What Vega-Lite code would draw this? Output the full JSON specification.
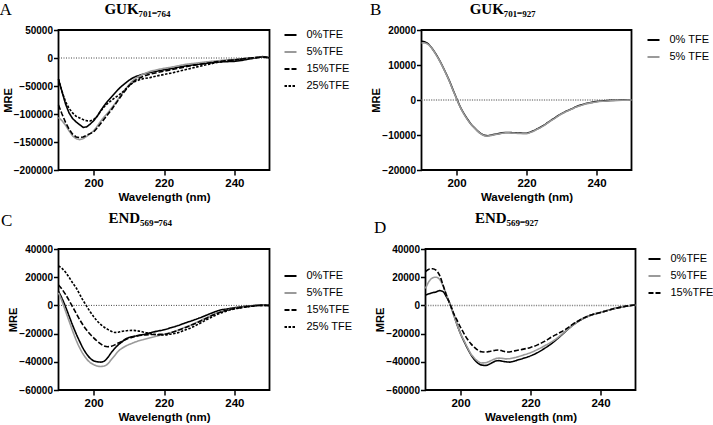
{
  "$schema": "https://vega.github.io/schema/vega-lite/v6.json",
  "background": "white",
  "padding": {"left": -1.5, "top": 0, "right": 0, "bottom": 0},
  "config": {
    "font": "Liberation Sans",
    "view": {"stroke": "black", "strokeWidth": 1.8},
    "axis": {"domain": false, "grid": false, "labelOverlap": false, "tickColor": "black", "tickSize": 5, "tickWidth": 1.5, "labelFont": "Liberation Sans", "labelFontWeight": "bold", "labelColor": "black", "titleFont": "Liberation Sans", "titleFontWeight": "bold", "titleColor": "black", "titleFontSize": 11.5},
    "axisX": {"labelFontSize": 11.5, "labelPadding": 2, "titlePadding": 3},
    "axisY": {"labelFontSize": 10, "labelPadding": 1, "titlePadding": 0, "titleFontSize": 11},
    "legend": {"orient": "none", "symbolType": "stroke", "symbolSize": 144, "symbolStrokeWidth": 2, "labelFont": "Liberation Sans", "labelFontSize": 11, "labelColor": "black", "padding": 0, "rowPadding": 5, "labelOffset": 9},
    "title": {"font": "Liberation Serif", "color": "black"}
  },
  "datasets": {
    "A": [
      {"w":190,"m":-38000,"s":"0%TFE"},{"w":191,"m":-60000,"s":"0%TFE"},{"w":192,"m":-82000,"s":"0%TFE"},{"w":193,"m":-98000,"s":"0%TFE"},{"w":194,"m":-108000,"s":"0%TFE"},{"w":195,"m":-114000,"s":"0%TFE"},{"w":196,"m":-119000,"s":"0%TFE"},{"w":197,"m":-124000,"s":"0%TFE"},{"w":198,"m":-123000,"s":"0%TFE"},{"w":199,"m":-118000,"s":"0%TFE"},{"w":200,"m":-112000,"s":"0%TFE"},{"w":201,"m":-104000,"s":"0%TFE"},{"w":202,"m":-94000,"s":"0%TFE"},{"w":203,"m":-85000,"s":"0%TFE"},{"w":204,"m":-77000,"s":"0%TFE"},{"w":205,"m":-70000,"s":"0%TFE"},{"w":206,"m":-63000,"s":"0%TFE"},{"w":207,"m":-56000,"s":"0%TFE"},{"w":208,"m":-50000,"s":"0%TFE"},{"w":209,"m":-45000,"s":"0%TFE"},{"w":210,"m":-40000,"s":"0%TFE"},{"w":211,"m":-36000,"s":"0%TFE"},{"w":212,"m":-33000,"s":"0%TFE"},{"w":214,"m":-29000,"s":"0%TFE"},{"w":216,"m":-26000,"s":"0%TFE"},{"w":218,"m":-23500,"s":"0%TFE"},{"w":220,"m":-21000,"s":"0%TFE"},{"w":222,"m":-19000,"s":"0%TFE"},{"w":224,"m":-16500,"s":"0%TFE"},{"w":226,"m":-14300,"s":"0%TFE"},{"w":228,"m":-12500,"s":"0%TFE"},{"w":230,"m":-11000,"s":"0%TFE"},{"w":232,"m":-9500,"s":"0%TFE"},{"w":234,"m":-8000,"s":"0%TFE"},{"w":236,"m":-7000,"s":"0%TFE"},{"w":238,"m":-6500,"s":"0%TFE"},{"w":240,"m":-6000,"s":"0%TFE"},{"w":242,"m":-4500,"s":"0%TFE"},{"w":244,"m":-2000,"s":"0%TFE"},{"w":246,"m":0,"s":"0%TFE"},{"w":248,"m":2400,"s":"0%TFE"},{"w":249,"m":2000,"s":"0%TFE"},{"w":250,"m":0,"s":"0%TFE"},
      {"w":190,"m":-106000,"s":"5%TFE"},{"w":191,"m":-112000,"s":"5%TFE"},{"w":192,"m":-120000,"s":"5%TFE"},{"w":193,"m":-130000,"s":"5%TFE"},{"w":194,"m":-139000,"s":"5%TFE"},{"w":195,"m":-144000,"s":"5%TFE"},{"w":196,"m":-146000,"s":"5%TFE"},{"w":197,"m":-144000,"s":"5%TFE"},{"w":198,"m":-140000,"s":"5%TFE"},{"w":199,"m":-135000,"s":"5%TFE"},{"w":200,"m":-130000,"s":"5%TFE"},{"w":201,"m":-122000,"s":"5%TFE"},{"w":202,"m":-113000,"s":"5%TFE"},{"w":203,"m":-105000,"s":"5%TFE"},{"w":204,"m":-98000,"s":"5%TFE"},{"w":205,"m":-90000,"s":"5%TFE"},{"w":206,"m":-82000,"s":"5%TFE"},{"w":207,"m":-73000,"s":"5%TFE"},{"w":208,"m":-64000,"s":"5%TFE"},{"w":209,"m":-56000,"s":"5%TFE"},{"w":210,"m":-48000,"s":"5%TFE"},{"w":211,"m":-41000,"s":"5%TFE"},{"w":212,"m":-36000,"s":"5%TFE"},{"w":214,"m":-29000,"s":"5%TFE"},{"w":216,"m":-24000,"s":"5%TFE"},{"w":218,"m":-21000,"s":"5%TFE"},{"w":220,"m":-18500,"s":"5%TFE"},{"w":222,"m":-16500,"s":"5%TFE"},{"w":224,"m":-14000,"s":"5%TFE"},{"w":226,"m":-11500,"s":"5%TFE"},{"w":228,"m":-10000,"s":"5%TFE"},{"w":230,"m":-8500,"s":"5%TFE"},{"w":232,"m":-7000,"s":"5%TFE"},{"w":234,"m":-5800,"s":"5%TFE"},{"w":236,"m":-4500,"s":"5%TFE"},{"w":238,"m":-3200,"s":"5%TFE"},{"w":240,"m":-2500,"s":"5%TFE"},{"w":242,"m":-1500,"s":"5%TFE"},{"w":244,"m":0,"s":"5%TFE"},{"w":246,"m":800,"s":"5%TFE"},{"w":248,"m":1800,"s":"5%TFE"},{"w":250,"m":200,"s":"5%TFE"},
      {"w":190,"m":-84000,"s":"15%TFE"},{"w":191,"m":-100000,"s":"15%TFE"},{"w":192,"m":-115000,"s":"15%TFE"},{"w":193,"m":-127000,"s":"15%TFE"},{"w":194,"m":-136000,"s":"15%TFE"},{"w":195,"m":-141000,"s":"15%TFE"},{"w":196,"m":-142000,"s":"15%TFE"},{"w":197,"m":-141000,"s":"15%TFE"},{"w":198,"m":-138000,"s":"15%TFE"},{"w":199,"m":-135000,"s":"15%TFE"},{"w":200,"m":-132000,"s":"15%TFE"},{"w":201,"m":-125000,"s":"15%TFE"},{"w":202,"m":-117000,"s":"15%TFE"},{"w":203,"m":-109000,"s":"15%TFE"},{"w":204,"m":-101000,"s":"15%TFE"},{"w":205,"m":-93000,"s":"15%TFE"},{"w":206,"m":-84000,"s":"15%TFE"},{"w":207,"m":-75000,"s":"15%TFE"},{"w":208,"m":-66000,"s":"15%TFE"},{"w":209,"m":-58000,"s":"15%TFE"},{"w":210,"m":-50000,"s":"15%TFE"},{"w":211,"m":-44000,"s":"15%TFE"},{"w":212,"m":-39000,"s":"15%TFE"},{"w":214,"m":-33000,"s":"15%TFE"},{"w":216,"m":-29000,"s":"15%TFE"},{"w":218,"m":-26000,"s":"15%TFE"},{"w":220,"m":-23500,"s":"15%TFE"},{"w":222,"m":-21000,"s":"15%TFE"},{"w":224,"m":-18500,"s":"15%TFE"},{"w":226,"m":-16000,"s":"15%TFE"},{"w":228,"m":-13500,"s":"15%TFE"},{"w":230,"m":-11500,"s":"15%TFE"},{"w":232,"m":-9500,"s":"15%TFE"},{"w":234,"m":-7500,"s":"15%TFE"},{"w":236,"m":-6000,"s":"15%TFE"},{"w":238,"m":-4500,"s":"15%TFE"},{"w":240,"m":-3500,"s":"15%TFE"},{"w":242,"m":-2000,"s":"15%TFE"},{"w":244,"m":-500,"s":"15%TFE"},{"w":246,"m":700,"s":"15%TFE"},{"w":248,"m":1800,"s":"15%TFE"},{"w":250,"m":300,"s":"15%TFE"},
      {"w":190,"m":-38000,"s":"25%TFE"},{"w":191,"m":-60000,"s":"25%TFE"},{"w":192,"m":-78000,"s":"25%TFE"},{"w":193,"m":-90000,"s":"25%TFE"},{"w":194,"m":-98000,"s":"25%TFE"},{"w":195,"m":-104000,"s":"25%TFE"},{"w":196,"m":-107000,"s":"25%TFE"},{"w":197,"m":-110000,"s":"25%TFE"},{"w":198,"m":-112000,"s":"25%TFE"},{"w":199,"m":-112500,"s":"25%TFE"},{"w":200,"m":-110000,"s":"25%TFE"},{"w":201,"m":-104000,"s":"25%TFE"},{"w":202,"m":-95000,"s":"25%TFE"},{"w":203,"m":-87000,"s":"25%TFE"},{"w":204,"m":-81000,"s":"25%TFE"},{"w":205,"m":-76000,"s":"25%TFE"},{"w":206,"m":-71000,"s":"25%TFE"},{"w":207,"m":-67000,"s":"25%TFE"},{"w":208,"m":-62000,"s":"25%TFE"},{"w":209,"m":-56000,"s":"25%TFE"},{"w":210,"m":-50000,"s":"25%TFE"},{"w":211,"m":-45000,"s":"25%TFE"},{"w":212,"m":-41000,"s":"25%TFE"},{"w":214,"m":-37000,"s":"25%TFE"},{"w":216,"m":-35000,"s":"25%TFE"},{"w":218,"m":-32000,"s":"25%TFE"},{"w":220,"m":-29500,"s":"25%TFE"},{"w":222,"m":-27000,"s":"25%TFE"},{"w":224,"m":-24000,"s":"25%TFE"},{"w":226,"m":-21000,"s":"25%TFE"},{"w":228,"m":-18000,"s":"25%TFE"},{"w":230,"m":-15000,"s":"25%TFE"},{"w":232,"m":-12000,"s":"25%TFE"},{"w":234,"m":-9500,"s":"25%TFE"},{"w":236,"m":-7000,"s":"25%TFE"},{"w":238,"m":-5000,"s":"25%TFE"},{"w":240,"m":-3500,"s":"25%TFE"},{"w":242,"m":-2000,"s":"25%TFE"},{"w":244,"m":-600,"s":"25%TFE"},{"w":246,"m":600,"s":"25%TFE"},{"w":248,"m":1800,"s":"25%TFE"},{"w":250,"m":300,"s":"25%TFE"}
    ],
    "B": [
      {"w":190,"m":16800,"s":"0% TFE"},{"w":191,"m":16600,"s":"0% TFE"},{"w":192,"m":16000,"s":"0% TFE"},{"w":193,"m":14800,"s":"0% TFE"},{"w":194,"m":13300,"s":"0% TFE"},{"w":195,"m":11600,"s":"0% TFE"},{"w":196,"m":9700,"s":"0% TFE"},{"w":197,"m":7600,"s":"0% TFE"},{"w":198,"m":5400,"s":"0% TFE"},{"w":199,"m":2900,"s":"0% TFE"},{"w":200,"m":500,"s":"0% TFE"},{"w":201,"m":-1800,"s":"0% TFE"},{"w":202,"m":-3700,"s":"0% TFE"},{"w":203,"m":-5300,"s":"0% TFE"},{"w":204,"m":-6700,"s":"0% TFE"},{"w":205,"m":-7800,"s":"0% TFE"},{"w":206,"m":-8800,"s":"0% TFE"},{"w":207,"m":-9600,"s":"0% TFE"},{"w":208,"m":-10100,"s":"0% TFE"},{"w":209,"m":-10200,"s":"0% TFE"},{"w":210,"m":-10000,"s":"0% TFE"},{"w":211,"m":-9800,"s":"0% TFE"},{"w":212,"m":-9600,"s":"0% TFE"},{"w":213,"m":-9400,"s":"0% TFE"},{"w":214,"m":-9300,"s":"0% TFE"},{"w":215,"m":-9300,"s":"0% TFE"},{"w":216,"m":-9350,"s":"0% TFE"},{"w":217,"m":-9400,"s":"0% TFE"},{"w":218,"m":-9450,"s":"0% TFE"},{"w":219,"m":-9500,"s":"0% TFE"},{"w":220,"m":-9500,"s":"0% TFE"},{"w":221,"m":-9200,"s":"0% TFE"},{"w":222,"m":-8800,"s":"0% TFE"},{"w":223,"m":-8300,"s":"0% TFE"},{"w":224,"m":-7800,"s":"0% TFE"},{"w":225,"m":-7200,"s":"0% TFE"},{"w":226,"m":-6500,"s":"0% TFE"},{"w":227,"m":-5800,"s":"0% TFE"},{"w":228,"m":-5200,"s":"0% TFE"},{"w":229,"m":-4500,"s":"0% TFE"},{"w":230,"m":-3900,"s":"0% TFE"},{"w":231,"m":-3400,"s":"0% TFE"},{"w":232,"m":-2900,"s":"0% TFE"},{"w":233,"m":-2500,"s":"0% TFE"},{"w":234,"m":-2000,"s":"0% TFE"},{"w":235,"m":-1600,"s":"0% TFE"},{"w":236,"m":-1300,"s":"0% TFE"},{"w":237,"m":-1000,"s":"0% TFE"},{"w":238,"m":-800,"s":"0% TFE"},{"w":239,"m":-600,"s":"0% TFE"},{"w":240,"m":-450,"s":"0% TFE"},{"w":242,"m":-250,"s":"0% TFE"},{"w":244,"m":-100,"s":"0% TFE"},{"w":246,"m":-50,"s":"0% TFE"},{"w":248,"m":0,"s":"0% TFE"},{"w":250,"m":0,"s":"0% TFE"},
      {"w":190,"m":16300,"s":"5% TFE"},{"w":191,"m":16300,"s":"5% TFE"},{"w":192,"m":15800,"s":"5% TFE"},{"w":193,"m":14700,"s":"5% TFE"},{"w":194,"m":13200,"s":"5% TFE"},{"w":195,"m":11500,"s":"5% TFE"},{"w":196,"m":9600,"s":"5% TFE"},{"w":197,"m":7500,"s":"5% TFE"},{"w":198,"m":5300,"s":"5% TFE"},{"w":199,"m":2800,"s":"5% TFE"},{"w":200,"m":400,"s":"5% TFE"},{"w":201,"m":-1900,"s":"5% TFE"},{"w":202,"m":-3800,"s":"5% TFE"},{"w":203,"m":-5400,"s":"5% TFE"},{"w":204,"m":-6800,"s":"5% TFE"},{"w":205,"m":-7900,"s":"5% TFE"},{"w":206,"m":-8900,"s":"5% TFE"},{"w":207,"m":-9700,"s":"5% TFE"},{"w":208,"m":-10200,"s":"5% TFE"},{"w":209,"m":-10300,"s":"5% TFE"},{"w":210,"m":-10100,"s":"5% TFE"},{"w":211,"m":-9900,"s":"5% TFE"},{"w":212,"m":-9700,"s":"5% TFE"},{"w":213,"m":-9500,"s":"5% TFE"},{"w":214,"m":-9400,"s":"5% TFE"},{"w":215,"m":-9400,"s":"5% TFE"},{"w":216,"m":-9450,"s":"5% TFE"},{"w":217,"m":-9500,"s":"5% TFE"},{"w":218,"m":-9550,"s":"5% TFE"},{"w":219,"m":-9600,"s":"5% TFE"},{"w":220,"m":-9600,"s":"5% TFE"},{"w":221,"m":-9300,"s":"5% TFE"},{"w":222,"m":-8900,"s":"5% TFE"},{"w":223,"m":-8400,"s":"5% TFE"},{"w":224,"m":-7900,"s":"5% TFE"},{"w":225,"m":-7300,"s":"5% TFE"},{"w":226,"m":-6600,"s":"5% TFE"},{"w":227,"m":-5900,"s":"5% TFE"},{"w":228,"m":-5300,"s":"5% TFE"},{"w":229,"m":-4600,"s":"5% TFE"},{"w":230,"m":-4000,"s":"5% TFE"},{"w":231,"m":-3500,"s":"5% TFE"},{"w":232,"m":-3000,"s":"5% TFE"},{"w":233,"m":-2600,"s":"5% TFE"},{"w":234,"m":-2100,"s":"5% TFE"},{"w":235,"m":-1700,"s":"5% TFE"},{"w":236,"m":-1400,"s":"5% TFE"},{"w":237,"m":-1100,"s":"5% TFE"},{"w":238,"m":-900,"s":"5% TFE"},{"w":239,"m":-700,"s":"5% TFE"},{"w":240,"m":-550,"s":"5% TFE"},{"w":242,"m":-350,"s":"5% TFE"},{"w":244,"m":-200,"s":"5% TFE"},{"w":246,"m":-100,"s":"5% TFE"},{"w":248,"m":-50,"s":"5% TFE"},{"w":250,"m":0,"s":"5% TFE"}
    ],
    "C": [
      {"w":190,"m":10000,"s":"0%TFE"},{"w":191,"m":5000,"s":"0%TFE"},{"w":192,"m":-1000,"s":"0%TFE"},{"w":193,"m":-7500,"s":"0%TFE"},{"w":194,"m":-14000,"s":"0%TFE"},{"w":195,"m":-20000,"s":"0%TFE"},{"w":196,"m":-25500,"s":"0%TFE"},{"w":197,"m":-30500,"s":"0%TFE"},{"w":198,"m":-34500,"s":"0%TFE"},{"w":199,"m":-37500,"s":"0%TFE"},{"w":200,"m":-39300,"s":"0%TFE"},{"w":201,"m":-40000,"s":"0%TFE"},{"w":202,"m":-40200,"s":"0%TFE"},{"w":203,"m":-39500,"s":"0%TFE"},{"w":204,"m":-37000,"s":"0%TFE"},{"w":205,"m":-33500,"s":"0%TFE"},{"w":206,"m":-30500,"s":"0%TFE"},{"w":207,"m":-28000,"s":"0%TFE"},{"w":208,"m":-26000,"s":"0%TFE"},{"w":209,"m":-24000,"s":"0%TFE"},{"w":210,"m":-22800,"s":"0%TFE"},{"w":211,"m":-22200,"s":"0%TFE"},{"w":212,"m":-21700,"s":"0%TFE"},{"w":214,"m":-20700,"s":"0%TFE"},{"w":216,"m":-19500,"s":"0%TFE"},{"w":218,"m":-18300,"s":"0%TFE"},{"w":220,"m":-17300,"s":"0%TFE"},{"w":222,"m":-15800,"s":"0%TFE"},{"w":224,"m":-14300,"s":"0%TFE"},{"w":226,"m":-12500,"s":"0%TFE"},{"w":228,"m":-10800,"s":"0%TFE"},{"w":230,"m":-9000,"s":"0%TFE"},{"w":232,"m":-7000,"s":"0%TFE"},{"w":234,"m":-5000,"s":"0%TFE"},{"w":236,"m":-3300,"s":"0%TFE"},{"w":238,"m":-2500,"s":"0%TFE"},{"w":240,"m":-1700,"s":"0%TFE"},{"w":242,"m":-1000,"s":"0%TFE"},{"w":244,"m":-500,"s":"0%TFE"},{"w":246,"m":0,"s":"0%TFE"},{"w":248,"m":200,"s":"0%TFE"},{"w":250,"m":-200,"s":"0%TFE"},
      {"w":190,"m":9000,"s":"5%TFE"},{"w":191,"m":3000,"s":"5%TFE"},{"w":192,"m":-4000,"s":"5%TFE"},{"w":193,"m":-11000,"s":"5%TFE"},{"w":194,"m":-18000,"s":"5%TFE"},{"w":195,"m":-24500,"s":"5%TFE"},{"w":196,"m":-30000,"s":"5%TFE"},{"w":197,"m":-34500,"s":"5%TFE"},{"w":198,"m":-38000,"s":"5%TFE"},{"w":199,"m":-40500,"s":"5%TFE"},{"w":200,"m":-42000,"s":"5%TFE"},{"w":201,"m":-43000,"s":"5%TFE"},{"w":202,"m":-43300,"s":"5%TFE"},{"w":203,"m":-43000,"s":"5%TFE"},{"w":204,"m":-41500,"s":"5%TFE"},{"w":205,"m":-38500,"s":"5%TFE"},{"w":206,"m":-35500,"s":"5%TFE"},{"w":207,"m":-32500,"s":"5%TFE"},{"w":208,"m":-30500,"s":"5%TFE"},{"w":209,"m":-29000,"s":"5%TFE"},{"w":210,"m":-27800,"s":"5%TFE"},{"w":211,"m":-26800,"s":"5%TFE"},{"w":212,"m":-25800,"s":"5%TFE"},{"w":214,"m":-24300,"s":"5%TFE"},{"w":216,"m":-23000,"s":"5%TFE"},{"w":218,"m":-21800,"s":"5%TFE"},{"w":220,"m":-20500,"s":"5%TFE"},{"w":222,"m":-19200,"s":"5%TFE"},{"w":224,"m":-17500,"s":"5%TFE"},{"w":226,"m":-15500,"s":"5%TFE"},{"w":228,"m":-13500,"s":"5%TFE"},{"w":230,"m":-11200,"s":"5%TFE"},{"w":232,"m":-8800,"s":"5%TFE"},{"w":234,"m":-6500,"s":"5%TFE"},{"w":236,"m":-4500,"s":"5%TFE"},{"w":238,"m":-3300,"s":"5%TFE"},{"w":240,"m":-2300,"s":"5%TFE"},{"w":242,"m":-1500,"s":"5%TFE"},{"w":244,"m":-800,"s":"5%TFE"},{"w":246,"m":-200,"s":"5%TFE"},{"w":248,"m":0,"s":"5%TFE"},{"w":250,"m":0,"s":"5%TFE"},
      {"w":190,"m":14500,"s":"15%TFE"},{"w":191,"m":11500,"s":"15%TFE"},{"w":192,"m":7800,"s":"15%TFE"},{"w":193,"m":3500,"s":"15%TFE"},{"w":194,"m":-1000,"s":"15%TFE"},{"w":195,"m":-5500,"s":"15%TFE"},{"w":196,"m":-10000,"s":"15%TFE"},{"w":197,"m":-14000,"s":"15%TFE"},{"w":198,"m":-17500,"s":"15%TFE"},{"w":199,"m":-20500,"s":"15%TFE"},{"w":200,"m":-23000,"s":"15%TFE"},{"w":201,"m":-25300,"s":"15%TFE"},{"w":202,"m":-27300,"s":"15%TFE"},{"w":203,"m":-28800,"s":"15%TFE"},{"w":204,"m":-29300,"s":"15%TFE"},{"w":205,"m":-29000,"s":"15%TFE"},{"w":206,"m":-28000,"s":"15%TFE"},{"w":207,"m":-26700,"s":"15%TFE"},{"w":208,"m":-25500,"s":"15%TFE"},{"w":209,"m":-24300,"s":"15%TFE"},{"w":210,"m":-23300,"s":"15%TFE"},{"w":211,"m":-22500,"s":"15%TFE"},{"w":212,"m":-21800,"s":"15%TFE"},{"w":214,"m":-21000,"s":"15%TFE"},{"w":216,"m":-20700,"s":"15%TFE"},{"w":218,"m":-20600,"s":"15%TFE"},{"w":220,"m":-20500,"s":"15%TFE"},{"w":222,"m":-19300,"s":"15%TFE"},{"w":224,"m":-17700,"s":"15%TFE"},{"w":226,"m":-15800,"s":"15%TFE"},{"w":228,"m":-13800,"s":"15%TFE"},{"w":230,"m":-11600,"s":"15%TFE"},{"w":232,"m":-9200,"s":"15%TFE"},{"w":234,"m":-6800,"s":"15%TFE"},{"w":236,"m":-4800,"s":"15%TFE"},{"w":238,"m":-3300,"s":"15%TFE"},{"w":240,"m":-2300,"s":"15%TFE"},{"w":242,"m":-1500,"s":"15%TFE"},{"w":244,"m":-800,"s":"15%TFE"},{"w":246,"m":-200,"s":"15%TFE"},{"w":248,"m":0,"s":"15%TFE"},{"w":250,"m":0,"s":"15%TFE"},
      {"w":190,"m":28000,"s":"25% TFE"},{"w":191,"m":26200,"s":"25% TFE"},{"w":192,"m":23500,"s":"25% TFE"},{"w":193,"m":20000,"s":"25% TFE"},{"w":194,"m":16000,"s":"25% TFE"},{"w":195,"m":12500,"s":"25% TFE"},{"w":196,"m":8000,"s":"25% TFE"},{"w":197,"m":3500,"s":"25% TFE"},{"w":198,"m":-500,"s":"25% TFE"},{"w":199,"m":-4500,"s":"25% TFE"},{"w":200,"m":-8000,"s":"25% TFE"},{"w":201,"m":-11000,"s":"25% TFE"},{"w":202,"m":-13500,"s":"25% TFE"},{"w":203,"m":-15500,"s":"25% TFE"},{"w":204,"m":-17000,"s":"25% TFE"},{"w":205,"m":-18300,"s":"25% TFE"},{"w":206,"m":-19200,"s":"25% TFE"},{"w":207,"m":-19000,"s":"25% TFE"},{"w":208,"m":-18400,"s":"25% TFE"},{"w":209,"m":-18100,"s":"25% TFE"},{"w":210,"m":-17800,"s":"25% TFE"},{"w":211,"m":-17700,"s":"25% TFE"},{"w":212,"m":-17900,"s":"25% TFE"},{"w":214,"m":-18800,"s":"25% TFE"},{"w":216,"m":-20000,"s":"25% TFE"},{"w":218,"m":-20800,"s":"25% TFE"},{"w":220,"m":-21000,"s":"25% TFE"},{"w":222,"m":-20300,"s":"25% TFE"},{"w":224,"m":-19300,"s":"25% TFE"},{"w":226,"m":-17500,"s":"25% TFE"},{"w":228,"m":-15500,"s":"25% TFE"},{"w":230,"m":-13000,"s":"25% TFE"},{"w":232,"m":-10300,"s":"25% TFE"},{"w":234,"m":-7800,"s":"25% TFE"},{"w":236,"m":-5500,"s":"25% TFE"},{"w":238,"m":-3800,"s":"25% TFE"},{"w":240,"m":-2500,"s":"25% TFE"},{"w":242,"m":-1600,"s":"25% TFE"},{"w":244,"m":-900,"s":"25% TFE"},{"w":246,"m":-300,"s":"25% TFE"},{"w":248,"m":0,"s":"25% TFE"},{"w":250,"m":0,"s":"25% TFE"}
    ],
    "D": [
      {"w":190,"m":7400,"s":"0%TFE"},{"w":191,"m":8200,"s":"0%TFE"},{"w":192,"m":9000,"s":"0%TFE"},{"w":193,"m":9500,"s":"0%TFE"},{"w":194,"m":10500,"s":"0%TFE"},{"w":195,"m":9800,"s":"0%TFE"},{"w":196,"m":6000,"s":"0%TFE"},{"w":197,"m":1000,"s":"0%TFE"},{"w":198,"m":-6000,"s":"0%TFE"},{"w":199,"m":-13500,"s":"0%TFE"},{"w":200,"m":-20000,"s":"0%TFE"},{"w":201,"m":-25500,"s":"0%TFE"},{"w":202,"m":-30500,"s":"0%TFE"},{"w":203,"m":-35000,"s":"0%TFE"},{"w":204,"m":-38500,"s":"0%TFE"},{"w":205,"m":-41000,"s":"0%TFE"},{"w":206,"m":-42300,"s":"0%TFE"},{"w":207,"m":-42600,"s":"0%TFE"},{"w":208,"m":-42000,"s":"0%TFE"},{"w":209,"m":-40700,"s":"0%TFE"},{"w":210,"m":-39500,"s":"0%TFE"},{"w":211,"m":-39200,"s":"0%TFE"},{"w":212,"m":-39600,"s":"0%TFE"},{"w":213,"m":-40000,"s":"0%TFE"},{"w":214,"m":-40200,"s":"0%TFE"},{"w":215,"m":-39800,"s":"0%TFE"},{"w":216,"m":-39000,"s":"0%TFE"},{"w":218,"m":-37500,"s":"0%TFE"},{"w":220,"m":-35800,"s":"0%TFE"},{"w":222,"m":-33500,"s":"0%TFE"},{"w":224,"m":-30500,"s":"0%TFE"},{"w":226,"m":-27100,"s":"0%TFE"},{"w":228,"m":-23000,"s":"0%TFE"},{"w":230,"m":-18500,"s":"0%TFE"},{"w":232,"m":-14200,"s":"0%TFE"},{"w":234,"m":-10800,"s":"0%TFE"},{"w":236,"m":-8200,"s":"0%TFE"},{"w":238,"m":-6300,"s":"0%TFE"},{"w":240,"m":-5000,"s":"0%TFE"},{"w":242,"m":-3600,"s":"0%TFE"},{"w":244,"m":-2200,"s":"0%TFE"},{"w":246,"m":-1200,"s":"0%TFE"},{"w":248,"m":-300,"s":"0%TFE"},{"w":250,"m":300,"s":"0%TFE"},
      {"w":190,"m":12000,"s":"5%TFE"},{"w":191,"m":17000,"s":"5%TFE"},{"w":192,"m":19500,"s":"5%TFE"},{"w":193,"m":20000,"s":"5%TFE"},{"w":194,"m":18500,"s":"5%TFE"},{"w":195,"m":14000,"s":"5%TFE"},{"w":196,"m":7500,"s":"5%TFE"},{"w":197,"m":1000,"s":"5%TFE"},{"w":198,"m":-6500,"s":"5%TFE"},{"w":199,"m":-13500,"s":"5%TFE"},{"w":200,"m":-20000,"s":"5%TFE"},{"w":201,"m":-25000,"s":"5%TFE"},{"w":202,"m":-30000,"s":"5%TFE"},{"w":203,"m":-34500,"s":"5%TFE"},{"w":204,"m":-37500,"s":"5%TFE"},{"w":205,"m":-39700,"s":"5%TFE"},{"w":206,"m":-40800,"s":"5%TFE"},{"w":207,"m":-40700,"s":"5%TFE"},{"w":208,"m":-40000,"s":"5%TFE"},{"w":209,"m":-38800,"s":"5%TFE"},{"w":210,"m":-37800,"s":"5%TFE"},{"w":211,"m":-37400,"s":"5%TFE"},{"w":212,"m":-37600,"s":"5%TFE"},{"w":213,"m":-37900,"s":"5%TFE"},{"w":214,"m":-37800,"s":"5%TFE"},{"w":215,"m":-37300,"s":"5%TFE"},{"w":216,"m":-36700,"s":"5%TFE"},{"w":218,"m":-35200,"s":"5%TFE"},{"w":220,"m":-33500,"s":"5%TFE"},{"w":222,"m":-31300,"s":"5%TFE"},{"w":224,"m":-28700,"s":"5%TFE"},{"w":226,"m":-25900,"s":"5%TFE"},{"w":228,"m":-22500,"s":"5%TFE"},{"w":230,"m":-18300,"s":"5%TFE"},{"w":232,"m":-14200,"s":"5%TFE"},{"w":234,"m":-10800,"s":"5%TFE"},{"w":236,"m":-8200,"s":"5%TFE"},{"w":238,"m":-6300,"s":"5%TFE"},{"w":240,"m":-5000,"s":"5%TFE"},{"w":242,"m":-3600,"s":"5%TFE"},{"w":244,"m":-2200,"s":"5%TFE"},{"w":246,"m":-1200,"s":"5%TFE"},{"w":248,"m":-300,"s":"5%TFE"},{"w":250,"m":300,"s":"5%TFE"},
      {"w":190,"m":24000,"s":"15%TFE"},{"w":191,"m":25700,"s":"15%TFE"},{"w":192,"m":26000,"s":"15%TFE"},{"w":193,"m":25000,"s":"15%TFE"},{"w":194,"m":21500,"s":"15%TFE"},{"w":195,"m":14500,"s":"15%TFE"},{"w":196,"m":7000,"s":"15%TFE"},{"w":197,"m":1000,"s":"15%TFE"},{"w":198,"m":-5500,"s":"15%TFE"},{"w":199,"m":-10500,"s":"15%TFE"},{"w":200,"m":-15500,"s":"15%TFE"},{"w":201,"m":-20000,"s":"15%TFE"},{"w":202,"m":-24000,"s":"15%TFE"},{"w":203,"m":-27300,"s":"15%TFE"},{"w":204,"m":-29800,"s":"15%TFE"},{"w":205,"m":-31800,"s":"15%TFE"},{"w":206,"m":-32900,"s":"15%TFE"},{"w":207,"m":-33100,"s":"15%TFE"},{"w":208,"m":-32800,"s":"15%TFE"},{"w":209,"m":-32300,"s":"15%TFE"},{"w":210,"m":-31800,"s":"15%TFE"},{"w":211,"m":-31600,"s":"15%TFE"},{"w":212,"m":-32300,"s":"15%TFE"},{"w":213,"m":-33000,"s":"15%TFE"},{"w":214,"m":-33000,"s":"15%TFE"},{"w":215,"m":-32500,"s":"15%TFE"},{"w":216,"m":-32000,"s":"15%TFE"},{"w":218,"m":-31000,"s":"15%TFE"},{"w":220,"m":-29800,"s":"15%TFE"},{"w":222,"m":-28000,"s":"15%TFE"},{"w":224,"m":-25500,"s":"15%TFE"},{"w":226,"m":-22500,"s":"15%TFE"},{"w":228,"m":-19800,"s":"15%TFE"},{"w":230,"m":-17000,"s":"15%TFE"},{"w":232,"m":-13500,"s":"15%TFE"},{"w":234,"m":-10500,"s":"15%TFE"},{"w":236,"m":-8000,"s":"15%TFE"},{"w":238,"m":-6300,"s":"15%TFE"},{"w":240,"m":-5000,"s":"15%TFE"},{"w":242,"m":-3600,"s":"15%TFE"},{"w":244,"m":-2200,"s":"15%TFE"},{"w":246,"m":-1200,"s":"15%TFE"},{"w":248,"m":-300,"s":"15%TFE"},{"w":250,"m":300,"s":"15%TFE"}
    ]
  },
  "resolve": {"scale": {"color": "independent", "strokeDash": "independent"}},
  "spacing": 6,
  "vconcat": [
    {
      "hconcat": [
        {
          "title": {"text": "A", "anchor": "start", "frame": "bounds", "fontSize": 17, "fontWeight": "normal", "dx": -2, "dy": 17.5, "offset": 0},
          "vconcat": [
            {
              "width": 211, "height": 140,
              "title": {"text": "GUK₇₀₁₋₇₆₄", "anchor": "middle", "frame": "bounds", "fontSize": 15, "fontWeight": "bold", "offset": 10, "dy": 2},
              "layer": [
                {"data": {"values": [{}]}, "mark": {"type": "rule", "color": "#444", "strokeWidth": 1, "strokeDash": [1, 1.5]}, "encoding": {"y": {"datum": 0, "type": "quantitative", "scale": {"domain": [-200000, 50000], "nice": false}, "axis": {"values": [-200000, -150000, -100000, -50000, 0, 50000], "format": "d", "title": "MRE", "labelOverlap": false}}}},
                {"data": {"name": "A"}, "mark": {"type": "line", "strokeWidth": 1.6},
                 "encoding": {
                   "x": {"field": "w", "type": "quantitative", "scale": {"domain": [190, 250], "nice": false}, "axis": {"values": [200, 220, 240], "title": "Wavelength (nm)"}},
                   "y": {"field": "m", "type": "quantitative", "scale": {"domain": [-200000, 50000], "nice": false}, "axis": {"values": [-200000, -150000, -100000, -50000, 0, 50000], "format": "d", "title": "MRE", "labelOverlap": false}},
                   "color": {"field": "s", "type": "nominal", "scale": {"domain": ["0%TFE", "5%TFE", "15%TFE", "25%TFE"], "range": ["black", "#9a9a9a", "black", "black"]}, "legend": {"title": null, "legendX": 225, "legendY": -2}},
                   "strokeDash": {"field": "s", "type": "nominal", "scale": {"domain": ["0%TFE", "5%TFE", "15%TFE", "25%TFE"], "range": [[1, 0], [1, 0], [5, 2], [2.5, 1.5]]}, "legend": {"title": null, "legendX": 225, "legendY": -2}}
                 }}
              ]
            }
          ]
        },
        {
          "title": {"text": "B", "anchor": "start", "frame": "bounds", "fontSize": 17, "fontWeight": "normal", "dx": 0, "dy": 18, "offset": 0},
          "vconcat": [
            {
              "width": 210, "height": 140,
              "title": {"text": "GUK₇₀₁₋₉₂₇", "anchor": "middle", "frame": "bounds", "fontSize": 15, "fontWeight": "bold", "offset": 10, "dy": 2},
              "layer": [
                {"data": {"values": [{}]}, "mark": {"type": "rule", "color": "#8a8a8a", "strokeWidth": 1.5, "strokeDash": [1.2, 1.2]}, "encoding": {"y": {"datum": 0, "type": "quantitative", "scale": {"domain": [-20000, 20000], "nice": false}, "axis": {"values": [-20000, -10000, 0, 10000, 20000], "format": "d", "title": "MRE", "labelOverlap": false}}}},
                {"data": {"name": "B"}, "mark": {"type": "line", "strokeWidth": 1.6, "interpolate": "monotone"},
                 "encoding": {
                   "x": {"field": "w", "type": "quantitative", "scale": {"domain": [190, 250], "nice": false}, "axis": {"values": [200, 220, 240], "title": "Wavelength (nm)"}},
                   "y": {"field": "m", "type": "quantitative", "scale": {"domain": [-20000, 20000], "nice": false}, "axis": {"values": [-20000, -10000, 0, 10000, 20000], "format": "d", "title": "MRE", "labelOverlap": false}},
                   "color": {"field": "s", "type": "nominal", "scale": {"domain": ["0% TFE", "5% TFE"], "range": ["black", "#9a9a9a"]}, "legend": {"title": null, "legendX": 225, "legendY": 3}}
                 }}
              ]
            }
          ]
        }
      ],
      "spacing": 20,
      "resolve": {"scale": {"color": "independent", "strokeDash": "independent"}}
    },
    {
      "hconcat": [
        {
          "title": {"text": "C", "anchor": "start", "frame": "bounds", "fontSize": 17, "fontWeight": "normal", "dx": -6, "dy": 20, "offset": 0},
          "vconcat": [
            {
              "width": 211, "height": 141,
              "title": {"text": "END₅₆₉₋₇₆₄", "anchor": "middle", "frame": "bounds", "fontSize": 15, "fontWeight": "bold", "offset": 18},
              "layer": [
                {"data": {"values": [{}]}, "mark": {"type": "rule", "color": "#444", "strokeWidth": 1, "strokeDash": [1, 1.5]}, "encoding": {"y": {"datum": 0, "type": "quantitative", "scale": {"domain": [-60000, 40000], "nice": false}, "axis": {"values": [-60000, -40000, -20000, 0, 20000, 40000], "format": "d", "title": "MRE", "labelOverlap": false}}}},
                {"data": {"name": "C"}, "mark": {"type": "line", "strokeWidth": 1.6, "interpolate": "monotone"},
                 "encoding": {
                   "x": {"field": "w", "type": "quantitative", "scale": {"domain": [190, 250], "nice": false}, "axis": {"values": [200, 220, 240], "title": "Wavelength (nm)"}},
                   "y": {"field": "m", "type": "quantitative", "scale": {"domain": [-60000, 40000], "nice": false}, "axis": {"values": [-60000, -40000, -20000, 0, 20000, 40000], "format": "d", "title": "MRE", "labelOverlap": false}},
                   "color": {"field": "s", "type": "nominal", "scale": {"domain": ["0%TFE", "5%TFE", "15%TFE", "25% TFE"], "range": ["black", "#9a9a9a", "black", "black"]}, "legend": {"title": null, "legendX": 225, "legendY": 20}},
                   "strokeDash": {"field": "s", "type": "nominal", "scale": {"domain": ["0%TFE", "5%TFE", "15%TFE", "25% TFE"], "range": [[1, 0], [1, 0], [5, 2], [2.5, 1.5]]}, "legend": {"title": null, "legendX": 225, "legendY": 20}}
                 }}
              ]
            }
          ]
        },
        {
          "title": {"text": "D", "anchor": "start", "frame": "bounds", "fontSize": 17, "fontWeight": "normal", "dx": 0, "dy": 27, "offset": 0},
          "vconcat": [
            {
              "width": 210, "height": 141,
              "title": {"text": "END₅₆₉₋₉₂₇", "anchor": "middle", "frame": "bounds", "fontSize": 15, "fontWeight": "bold", "offset": 18},
              "layer": [
                {"data": {"values": [{}]}, "mark": {"type": "rule", "color": "#8a8a8a", "strokeWidth": 1.5, "strokeDash": [1.2, 1.2]}, "encoding": {"y": {"datum": 0, "type": "quantitative", "scale": {"domain": [-60000, 40000], "nice": false}, "axis": {"values": [-60000, -40000, -20000, 0, 20000, 40000], "format": "d", "title": "MRE", "labelOverlap": false}}}},
                {"data": {"name": "D"}, "mark": {"type": "line", "strokeWidth": 1.6, "interpolate": "monotone"},
                 "encoding": {
                   "x": {"field": "w", "type": "quantitative", "scale": {"domain": [190, 250], "nice": false}, "axis": {"values": [200, 220, 240], "title": "Wavelength (nm)"}},
                   "y": {"field": "m", "type": "quantitative", "scale": {"domain": [-60000, 40000], "nice": false}, "axis": {"values": [-60000, -40000, -20000, 0, 20000, 40000], "format": "d", "title": "MRE", "labelOverlap": false}},
                   "color": {"field": "s", "type": "nominal", "scale": {"domain": ["0%TFE", "5%TFE", "15%TFE"], "range": ["black", "#9a9a9a", "black"]}, "legend": {"title": null, "legendX": 222, "legendY": 3}},
                   "strokeDash": {"field": "s", "type": "nominal", "scale": {"domain": ["0%TFE", "5%TFE", "15%TFE"], "range": [[1, 0], [1, 0], [5, 2]]}, "legend": {"title": null, "legendX": 222, "legendY": 3}}
                 }}
              ]
            }
          ]
        }
      ],
      "spacing": 21,
      "resolve": {"scale": {"color": "independent", "strokeDash": "independent"}}
    }
  ]
}
